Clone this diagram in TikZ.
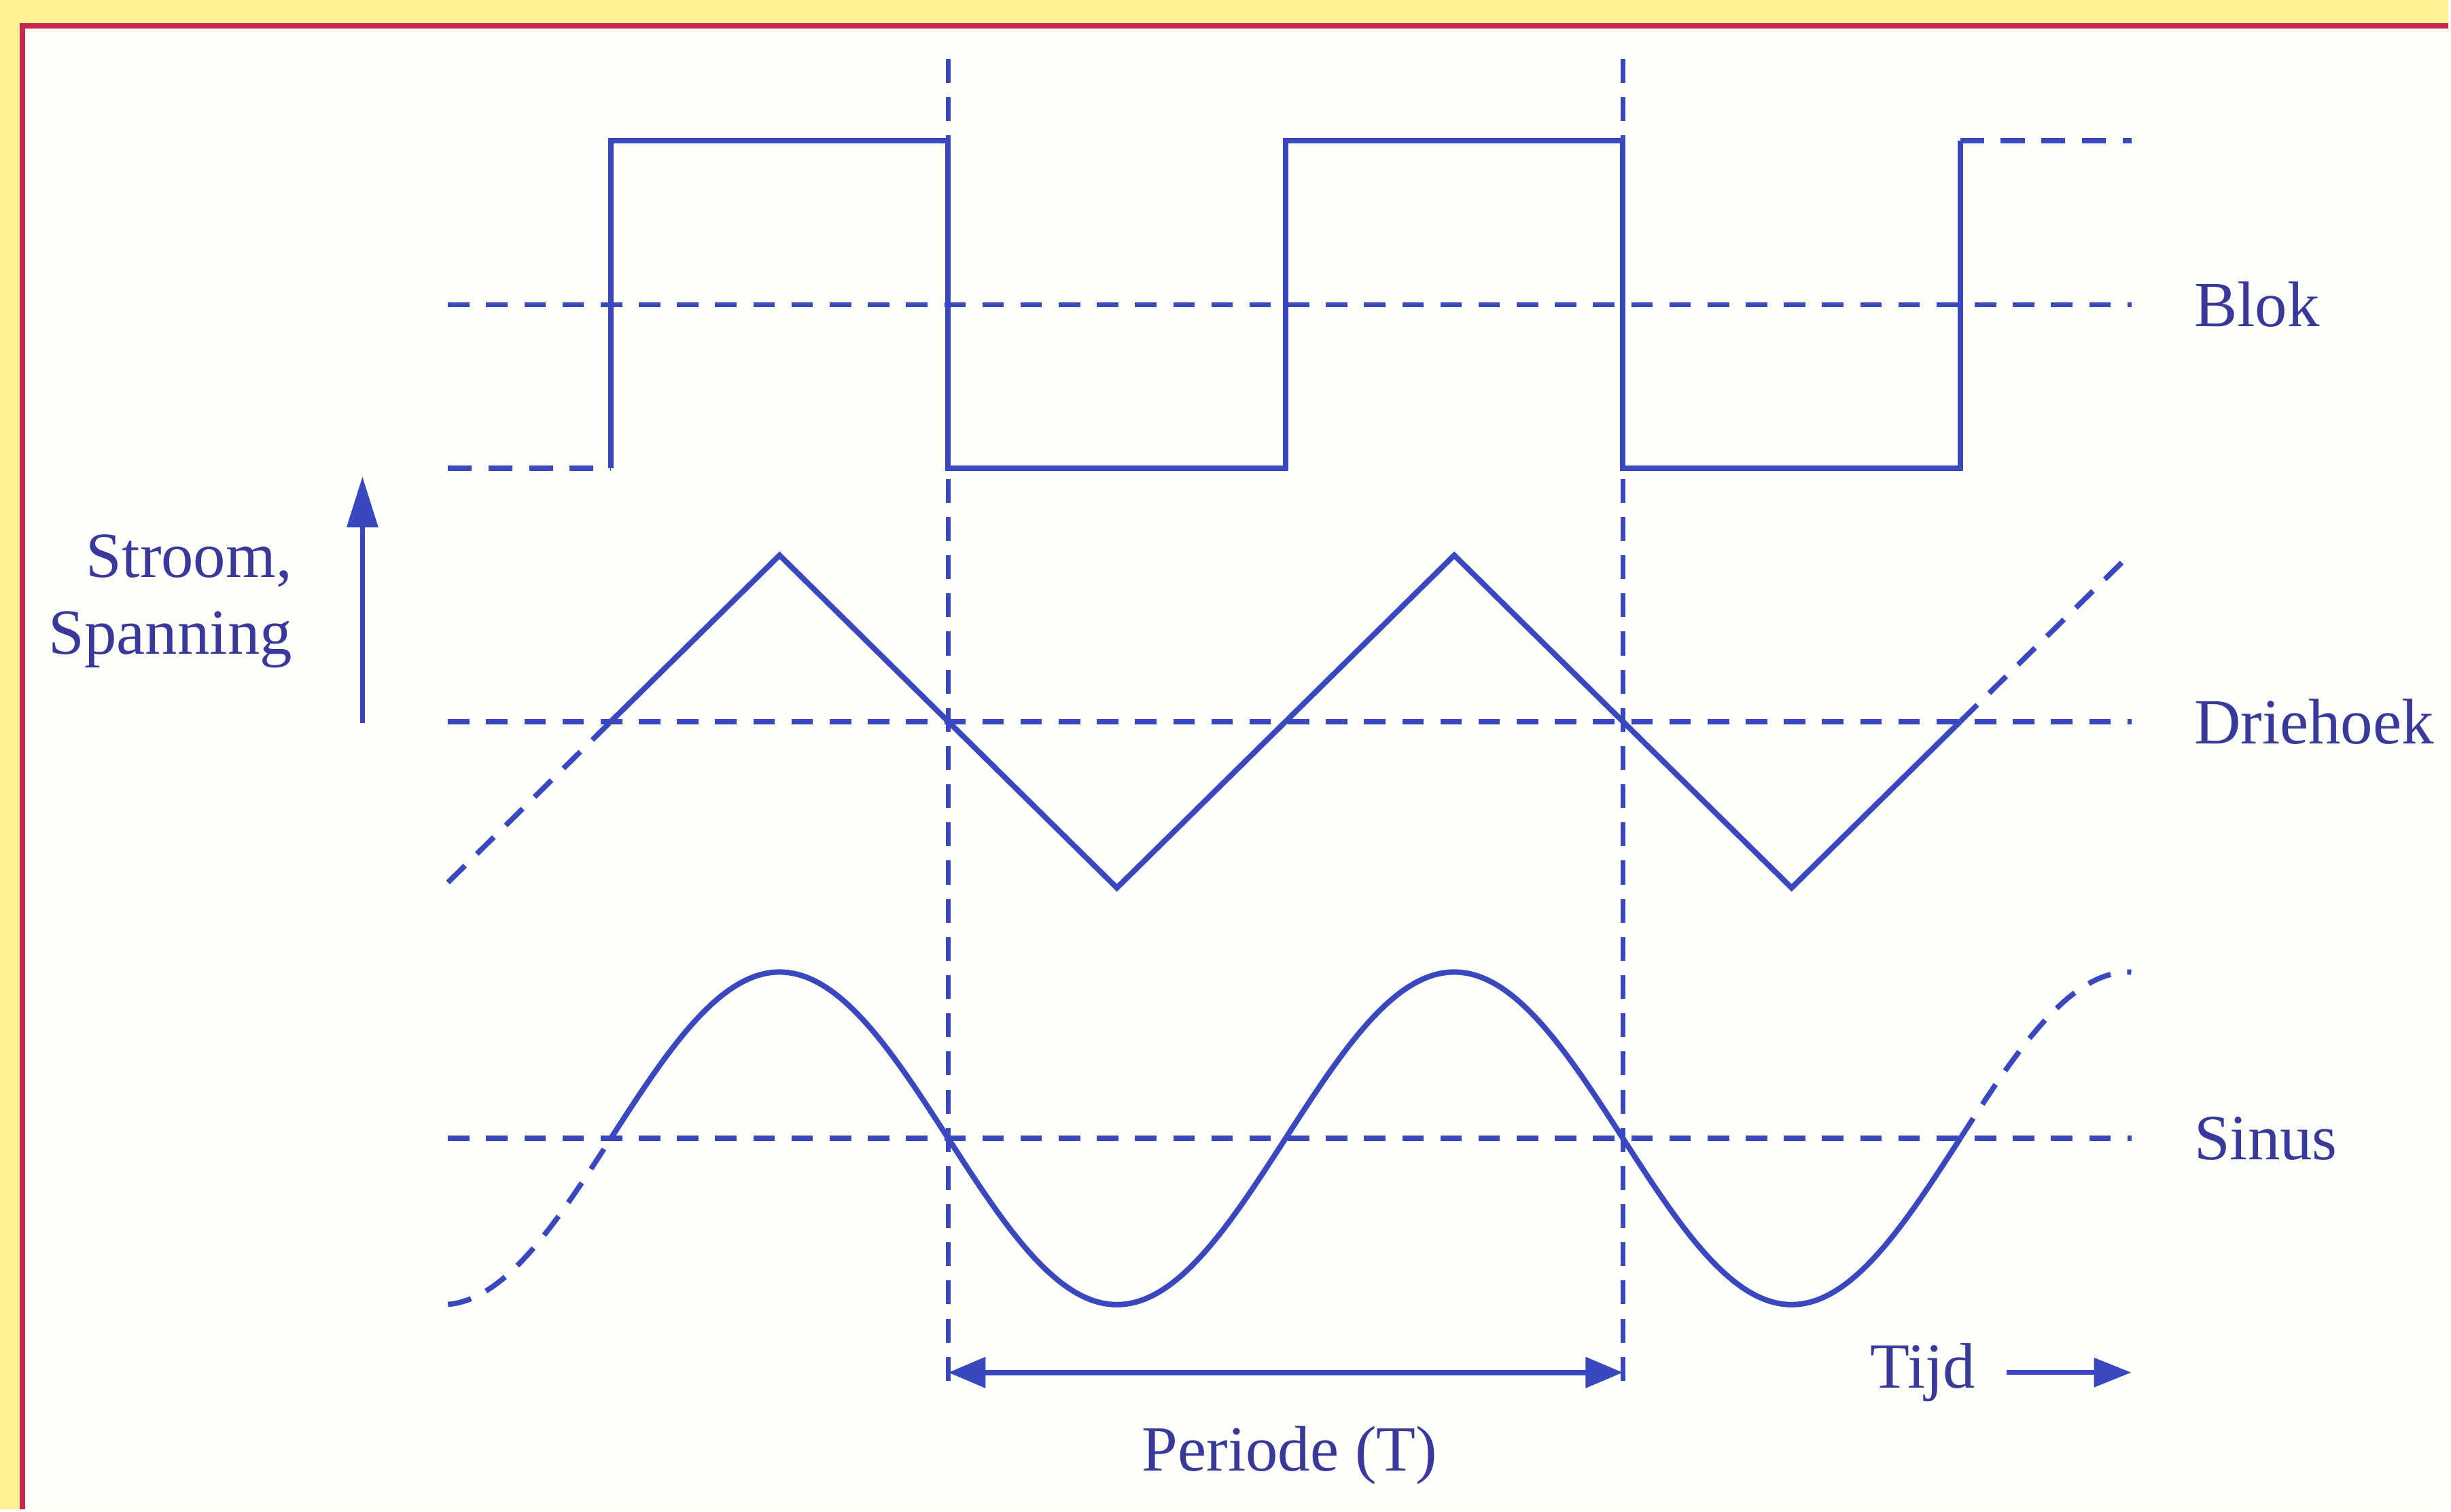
\documentclass[tikz,border=0pt]{standalone}
\usepackage{fontspec}
\setmainfont{Liberation Serif}
\usetikzlibrary{arrows.meta}
\definecolor{blauw}{HTML}{3A48C0}
\definecolor{inkt}{HTML}{38399A}
\definecolor{geel}{HTML}{FFF196}
\definecolor{rood}{HTML}{C42A4C}
\definecolor{papier}{HTML}{FFFFFA}
\tikzset{
  sig/.style={blauw,line width=2.3pt,line join=miter},
  sigd/.style={blauw,line width=2.2pt,dash pattern=on 10pt off 7pt},
  nul/.style={blauw,line width=2.2pt,dash pattern=on 9pt off 7pt},
  tijdlijn/.style={blauw,line width=2pt,dash pattern=on 10pt off 6pt},
  pijl/.style={-{Triangle[length=5.5mm,width=4.2mm]},blauw,line width=2pt},
  pijlv/.style={-{Triangle[length=7.5mm,width=4.5mm]},blauw,line width=2pt},
  pijl2/.style={{Triangle[length=5.5mm,width=4.4mm]}-{Triangle[length=5.5mm,width=4.4mm]},blauw,line width=2.3pt},
  lbl/.style={inkt,font=\fontsize{27}{32}\selectfont,inner sep=0pt},
}
\begin{document}
\begin{tikzpicture}
  % kader
  \fill[papier] (0,0) rectangle (36.07,22.23);
  \fill[geel] (0,21.85) rectangle (36.07,22.23);
  \fill[geel] (0,0) rectangle (0.33,22.23);
  \draw[rood,line width=2.3pt] (0.33,0)--(0.33,21.85)--(36.07,21.85);
  \useasboundingbox (0,0) rectangle (36.07,22.23);

  % periodegrenzen
  \coordinate (pa) at (13.97,21.36);
  \coordinate (pb) at (23.91,21.36);
  \coordinate (pa0) at (13.97,1.76);
  \coordinate (pb0) at (23.91,1.76);
  \draw[tijdlijn] (pa)--(pa0);
  \draw[tijdlijn] (pb)--(pb0);

  % nullijnen
  \draw[nul] (6.60,17.74)--(31.40,17.74);
  \draw[nul] (6.60,11.60)--(31.40,11.60);
  \draw[nul] (6.60,5.46)--(31.40,5.46);

  % blok
  \draw[sigd] (6.60,15.33)--(9.00,15.33);
  \draw[sig] (9.00,15.33)--(9.00,20.16)--(13.97,20.16)--(13.97,15.33)--(18.94,15.33)
    --(18.94,20.16)--(23.91,20.16)--(23.91,15.33)--(28.88,15.33)--(28.88,20.16);
  \draw[sigd] (28.88,20.16)--(31.40,20.16);

  % driehoek
  \draw[sigd] (6.60,9.23)--(9.00,11.60);
  \draw[sig] (9.00,11.60)--(11.485,14.05)--(16.455,9.15)--(21.425,14.05)--(26.395,9.15)--(28.88,11.60);
  \draw[sigd] (28.88,11.60)--(31.40,14.08);

  % sinus
  \draw[sigd] plot[domain=6.60:9.00,samples=30,smooth] (\x,{5.46+2.45*sin(360*(\x-9)/9.94)});
  \draw[sig] plot[domain=9.00:28.88,samples=160,smooth] (\x,{5.46+2.45*sin(360*(\x-9)/9.94)});
  \draw[sigd] plot[domain=28.88:31.40,samples=30,smooth] (\x,{5.46+2.45*sin(360*(\x-9)/9.94)});

  % labels
  \node[lbl,anchor=west] (blok) at (32.32,17.74) {Blok};
  \node[lbl,anchor=west] (drie) at (32.32,11.60) {Driehoek};
  \node[lbl,anchor=west] (sinus) at (32.32,5.46) {Sinus};
  \node[lbl,anchor=east,align=right] (as) at (4.31,13.37) {Stroom,\\Spanning};
  \coordinate (asv) at (5.34,11.58);
  \coordinate (ast) at (5.34,15.21);
  \draw[pijlv] (asv)--(ast);

  % periode
  \coordinate (ta) at (13.97,2.01);
  \coordinate (tb) at (23.91,2.01);
  \draw[pijl2] (ta)--(tb);
  \node[lbl] (per) at (19.0,0.79) {Periode (T)};
  \node[lbl,anchor=west] (tijd) at (27.55,2.01) {Tijd};
  \coordinate (tijdp) at (31.40,2.01);
  \draw[pijl] ([xshift=0.45cm]tijd.east)--(tijdp);
\end{tikzpicture}
\end{document}
